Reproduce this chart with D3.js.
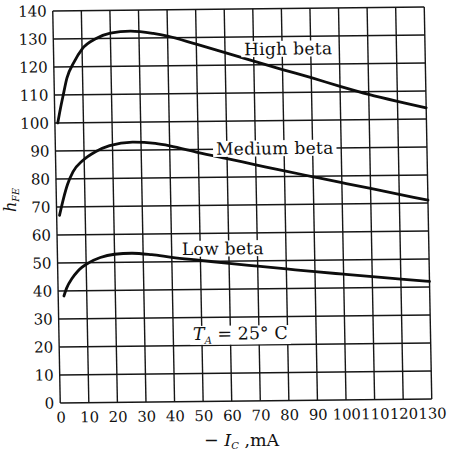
<!DOCTYPE html>
<html>
<head>
<meta charset="utf-8">
<script src="https://cdn.jsdelivr.net/npm/d3@7"></script>
<style>
  html, body { margin: 0; padding: 0; background: #ffffff; }
  svg { display: block; }
  text { font-family: "DejaVu Serif", "Liberation Serif", serif; fill: #111; }
</style>
</head>
<body>
<script>
// ---- data ----
const xTickValues = [0, 10, 20, 30, 40, 50, 60, 70, 80, 90, 100, 110, 120, 130];
const yTickValues = [0, 10, 20, 30, 40, 50, 60, 70, 80, 90, 100, 110, 120, 130, 140];

const highX = [1, 2, 3, 4.5, 7, 10, 15, 20, 27, 35, 40, 50, 60, 70, 80, 90, 100, 110, 120, 130];
const highY = [100, 105, 109.5, 116, 121.5, 126.3, 130, 131.9, 132.5, 131.6, 130.6, 127.6, 124.5, 121.3, 118.2, 115.2, 112, 109, 106.4, 104];

const medX = [1, 2.5, 4, 6, 9.5, 14, 19, 27, 35, 40, 50, 60, 70, 80, 90, 100, 110, 120, 130];
const medY = [67, 73, 78, 82.5, 86.5, 89.6, 91.7, 92.9, 92.3, 91.4, 88.9, 86.6, 84.3, 82, 79.8, 77.6, 75.4, 73.2, 71];

const lowX = [2, 3, 5, 7, 11, 15, 20, 26, 33, 40, 50, 60, 70, 80, 90, 100, 110, 120, 130];
const lowY = [38.2, 41, 44.5, 47, 50, 51.8, 52.9, 53.2, 52.6, 51.6, 50.4, 49.2, 48.1, 47, 45.9, 44.9, 43.9, 42.9, 42];

const curveLabels = ["High beta", "Medium beta", "Low beta"];
const labelX = [66.7, 56.2, 43.6];
const labelY = [123.5, 88.0, 52.4];

// ---- layout ----
const W = 452, H = 452;
const pL = 56.5, pR = 428, pT = 9, pB = 401;
const cx = (pL + pR) / 2, cy = (pT + pB) / 2;

const svg = d3.select("body").append("svg")
  .attr("width", W).attr("height", H)
  .attr("viewBox", `0 0 ${W} ${H}`);

svg.append("rect").attr("width", W).attr("height", H).attr("fill", "#ffffff");

const x = d3.scaleLinear().domain([0, 130]).range([pL, pR]);
const y = d3.scaleLinear().domain([0, 140]).range([pB, pT]);

// whole chart slightly skewed like the scanned original
const ka = -0.01077, kc = 0.01913;
const g = svg.append("g")
  .attr("transform", `matrix(1 ${ka} ${kc} 1 ${-kc * cy} ${-ka * cx})`);

// grid
const grid = g.append("g").attr("stroke", "#161616").attr("stroke-width", 1.4);
grid.selectAll("line.v").data(xTickValues).join("line")
  .attr("class", "v")
  .attr("x1", d => x(d)).attr("x2", d => x(d))
  .attr("y1", y(0)).attr("y2", y(140));
grid.selectAll("line.h").data(yTickValues).join("line")
  .attr("class", "h")
  .attr("x1", x(0)).attr("x2", x(130))
  .attr("y1", d => y(d)).attr("y2", d => y(d));

// axes (tick labels only)
const xAxis = g.append("g")
  .attr("transform", `translate(0,${pB})`)
  .call(d3.axisBottom(x).tickValues(xTickValues).tickSize(0).tickPadding(9).tickFormat(d3.format("d")));
xAxis.select(".domain").remove();
xAxis.selectAll("text").attr("font-size", 14.8).attr("fill", "#111")
  .style("font-family", '"DejaVu Serif", serif');

const yAxis = g.append("g")
  .attr("transform", `translate(${pL},0)`)
  .call(d3.axisLeft(y).tickValues(yTickValues).tickSize(0).tickPadding(6).tickFormat(d3.format("d")));
yAxis.select(".domain").remove();
yAxis.selectAll("text").attr("font-size", 15).attr("fill", "#111")
  .style("font-family", '"DejaVu Serif", serif');

// curves
const line = d3.line().x(d => x(d[0])).y(d => y(d[1])).curve(d3.curveMonotoneX);
const series = [d3.zip(highX, highY), d3.zip(medX, medY), d3.zip(lowX, lowY)];
g.append("g").selectAll("path").data(series).join("path")
  .attr("d", line)
  .attr("fill", "none")
  .attr("stroke", "#0d0d0d")
  .attr("stroke-width", 2.8)
  .attr("stroke-linecap", "round");

// curve labels with white knock-out boxes
const labG = g.append("g");
curveLabels.forEach((t, i) => {
  const tx = labG.append("text")
    .attr("x", x(labelX[i])).attr("y", y(labelY[i]))
    .attr("font-size", 17).attr("letter-spacing", 0.3).text(t);
  const bb = tx.node().getBBox();
  labG.insert("rect", "text")
    .attr("x", bb.x - 3).attr("y", bb.y + 2)
    .attr("width", bb.width + 6).attr("height", bb.height - 4)
    .attr("fill", "#ffffff");
});

// T_A = 25 °C
const ta = labG.append("text")
  .attr("x", x(46.9)).attr("y", y(22.0)).attr("font-size", 17.5);
ta.append("tspan").attr("font-style", "italic").text("T");
ta.append("tspan").attr("font-style", "italic").attr("font-size", 10).attr("dy", 4).text("A");
ta.append("tspan").attr("dy", -4).text(" = 25\u00B0 C");
const tb = ta.node().getBBox();
labG.insert("rect", "text")
  .attr("x", tb.x - 3).attr("y", tb.y + 2)
  .attr("width", tb.width + 6).attr("height", tb.height - 3)
  .attr("fill", "#ffffff");

// axis titles (screen coordinates)
const yt = svg.append("text")
  .attr("transform", "translate(16,212) rotate(-90)")
  .attr("font-size", 16);
yt.append("tspan").attr("font-style", "italic").text("h");
yt.append("tspan").attr("font-style", "italic").attr("font-size", 9.5).attr("dy", 3).text("FE");

const xt = svg.append("text")
  .attr("x", 204).attr("y", 446).attr("font-size", 17.5);
xt.append("tspan").text("\u2212 ");
xt.append("tspan").attr("font-style", "italic").text("I");
xt.append("tspan").attr("font-style", "italic").attr("font-size", 10).attr("dy", 3).text("C");
xt.append("tspan").attr("dy", -3).text(" ,mA");
</script>
</body>
</html>
